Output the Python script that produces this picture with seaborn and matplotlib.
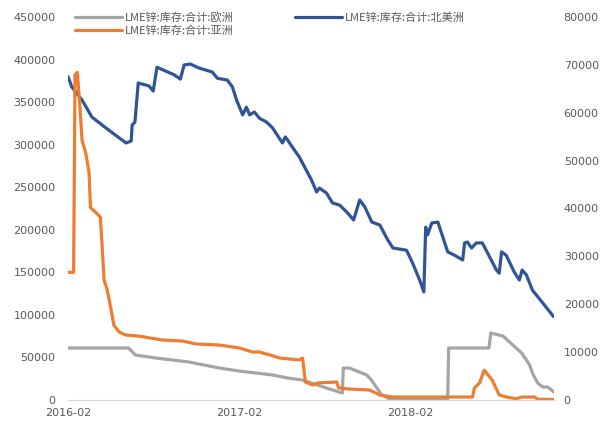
import pandas as pd
import matplotlib.pyplot as plt
import matplotlib.dates as mdates
import seaborn as sns

# datos (LME 锌 库存)
fechas_eu = ["2016-02-01", "2016-06-09", "2016-06-24", "2016-08-06", "2016-10-16", "2016-12-20",
             "2017-02-01", "2017-04-13", "2017-05-15", "2017-06-16", "2017-08-06", "2017-09-09",
             "2017-09-11", "2017-09-24", "2017-10-31", "2017-11-10", "2017-12-02", "2017-12-19",
             "2018-04-22", "2018-04-24", "2018-07-19", "2018-07-23", "2018-08-18", "2018-09-08",
             "2018-09-27", "2018-10-14", "2018-10-20", "2018-10-31", "2018-11-11", "2018-11-21",
             "2018-11-30", "2018-12-04"]
valores_eu = [61100, 61100, 52900, 49350, 44650, 37600,
              34000, 29400, 25850, 23500, 14100, 8200,
              37600, 37600, 29400, 23500, 5900, 1200,
              1200, 61100, 61100, 78700, 75200, 64600,
              55200, 41100, 31700, 20000, 15300, 15300,
              11750, 9400]

fechas_na = ["2016-02-01", "2016-02-09", "2016-03-02", "2016-03-23", "2016-04-22", "2016-06-04",
             "2016-06-15", "2016-06-17", "2016-06-23", "2016-06-30", "2016-07-23", "2016-08-01",
             "2016-08-09", "2016-09-15", "2016-09-28", "2016-10-06", "2016-10-19", "2016-11-07",
             "2016-12-05", "2016-12-16", "2017-01-06", "2017-01-17", "2017-01-26", "2017-02-08",
             "2017-02-16", "2017-02-23", "2017-03-05", "2017-03-16", "2017-03-31", "2017-04-13",
             "2017-05-04", "2017-05-10", "2017-05-15", "2017-05-25", "2017-06-09", "2017-06-24",
             "2017-07-05", "2017-07-16", "2017-07-22", "2017-08-06", "2017-08-19", "2017-09-03",
             "2017-09-18", "2017-10-03", "2017-10-16", "2017-10-27", "2017-11-11", "2017-11-28",
             "2017-12-15", "2017-12-26", "2018-01-24", "2018-02-06", "2018-02-21", "2018-03-02",
             "2018-03-06", "2018-03-10", "2018-03-19", "2018-04-01", "2018-04-22", "2018-05-07",
             "2018-05-24", "2018-05-28", "2018-06-03", "2018-06-12", "2018-06-22", "2018-07-05",
             "2018-08-04", "2018-08-10", "2018-08-15", "2018-08-25", "2018-09-11", "2018-09-22",
             "2018-09-28", "2018-10-07", "2018-10-20", "2018-11-11", "2018-12-04"]
valores_na = [380000, 368000, 352500, 332500, 319600, 302000,
              304300, 323000, 326600, 372500, 369000, 363000,
              391000, 382000, 377000, 393600, 394800, 390000,
              385400, 378000, 376000, 368000, 352500, 335000,
              344000, 335000, 338400, 331000, 326600, 319600,
              302000, 309000, 305500, 297300, 285500, 270000,
              258500, 244400, 249000, 243200, 231500, 229000,
              221000, 211500, 235000, 226800, 209000, 205600,
              188000, 178600, 176000, 161000, 141000, 127000,
              203000, 194000, 208000, 209000, 174000, 170000,
              164500, 184500, 185600, 178600, 184500, 184500,
              152750, 149000, 174000, 170000, 150400, 141000,
              152750, 147000, 129000, 114000, 98000]

fechas_as = ["2016-02-01", "2016-02-13", "2016-02-16", "2016-02-21", "2016-02-28", "2016-03-02",
             "2016-03-10", "2016-03-17", "2016-03-20", "2016-03-30", "2016-04-10", "2016-04-14",
             "2016-04-18", "2016-04-25", "2016-05-02", "2016-05-09", "2016-05-20", "2016-06-03",
             "2016-07-02", "2016-08-20", "2016-10-02", "2016-11-01", "2016-12-20", "2017-02-01",
             "2017-03-01", "2017-03-16", "2017-04-13", "2017-04-28", "2017-06-09", "2017-06-16",
             "2017-06-22", "2017-07-07", "2017-07-18", "2017-08-28", "2017-09-01", "2017-09-24",
             "2017-11-06", "2017-11-28", "2017-12-25", "2018-06-14", "2018-06-18", "2018-06-29",
             "2018-07-09", "2018-07-26", "2018-08-10", "2018-08-25", "2018-09-16", "2018-09-27",
             "2018-10-24", "2018-10-31", "2018-12-04"]
valores_as = [150000, 150000, 382000, 385000, 332000, 305000,
              290000, 267000, 226000, 221000, 215000, 180000,
              141000, 129000, 109000, 88000, 80000, 76400,
              75000, 70500, 69300, 65800, 64600, 61100,
              56400, 56400, 52000, 49350, 47000, 49350,
              21150, 17600, 20000, 21150, 14100, 12900,
              11750, 5900, 3500, 3500, 14100, 20000,
              35000, 23500, 5900, 3500, 1500, 3500,
              3500, 1000, 500]

etiquetas = ["LME锌:库存:合计:欧洲", "LME锌:库存:合计:北美洲", "LME锌:库存:合计:亚洲"]
colores = ["#A5A5A5", "#2F5597", "#ED7D31"]

sns.set_style("white")
plt.rcParams['font.family'] = ['DejaVu Sans', 'Noto Sans CJK SC']
gris = "#595959"

fig = plt.figure(figsize=(6.04, 4.21), dpi=100)
ax = fig.add_axes([68 / 604, 1 - 400 / 421, 486 / 604, 383 / 421])

series = [(fechas_eu, valores_eu), (fechas_na, valores_na), (fechas_as, valores_as)]
for (f, v), lab, col in zip(series, etiquetas, colores):
    d = pd.DataFrame({"fecha": pd.to_datetime(f), "valor": v})
    sns.lineplot(data=d, x="fecha", y="valor", ax=ax, color=col, linewidth=2.3, label=lab)

ax.set_xlim(pd.Timestamp("2016-02-01"), pd.Timestamp("2018-12-05"))
ax.set_ylim(0, 450000)
ax.set_yticks(range(0, 450001, 50000))
ax.set_xticks(pd.to_datetime(["2016-02-01", "2017-02-01", "2018-02-01"]))
ax.xaxis.set_major_formatter(mdates.DateFormatter("%Y-%m"))
ax.set_xlabel("")
ax.set_ylabel("")
for s in ["top", "right", "left"]:
    ax.spines[s].set_visible(False)
ax.spines["bottom"].set_color("#D9D9D9")
ax.tick_params(axis="y", length=0, pad=9, labelsize=8, labelcolor=gris)
ax.tick_params(axis="x", length=4, color="#D9D9D9", pad=2, labelsize=8, labelcolor=gris)
ax.legend_.remove()

ax2 = ax.twinx()
ax2.set_ylim(0, 80000)
ax2.set_yticks(range(0, 80001, 10000))
for s in ax2.spines.values():
    s.set_visible(False)
ax2.tick_params(axis="y", length=0, pad=7, labelsize=8, labelcolor=gris)

handles, labels = ax.get_legend_handles_labels()
orden = [0, 2, 1]
fig.legend([handles[i] for i in orden], [labels[i] for i in orden],
           loc="upper left", bbox_to_anchor=(65 / 604, 1 - 2 / 421), ncol=2,
           frameon=False, fontsize=8, labelcolor=gris, handlelength=4.2,
           handletextpad=0.3, columnspacing=5.5, labelspacing=0.25,
           prop={"family": ["Noto Sans CJK SC", "DejaVu Sans"], "size": 8})

plt.savefig("out.png", dpi=100)
plt.close()
